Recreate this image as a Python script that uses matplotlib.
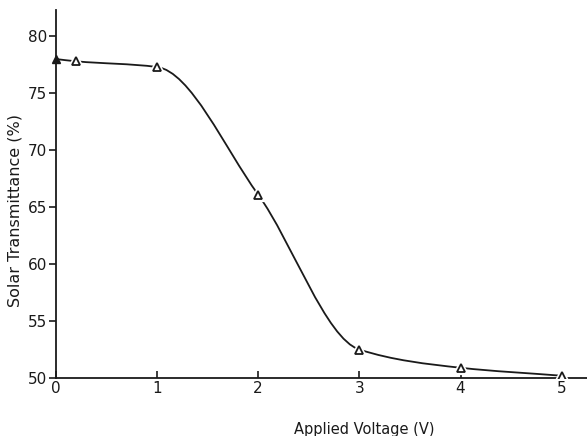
import numpy as np
import matplotlib.pyplot as plt
from matplotlib.path import Path
from matplotlib.patches import PathPatch

# --- data ---
voltage = [0.0, 0.2, 1.0, 2.0, 3.0, 4.0, 5.0]
transmittance = [78.0, 77.8, 77.3, 66.1, 52.5, 50.9, 50.2]
x_ticks = [0, 1, 2, 3, 4, 5]
y_ticks = [50, 55, 60, 65, 70, 75, 80]

ink = '#1a1a1a'

fig = plt.figure(figsize=(5.87, 4.36), dpi=100)
ax = fig.add_axes([0.095, 0.133, 0.905, 0.844])

# smooth curve through the points: monotone (Fritsch-Carlson) cubic Bezier segments
x = np.array(voltage)
y = np.array(transmittance)
h = np.diff(x)
d = np.diff(y) / h
m = np.zeros_like(y)
m[0], m[-1] = d[0], d[-1]
for k in range(1, len(x) - 1):
    if d[k - 1] * d[k] > 0:
        w1 = 2 * h[k] + h[k - 1]
        w2 = h[k] + 2 * h[k - 1]
        m[k] = (w1 + w2) / (w1 / d[k - 1] + w2 / d[k])
verts = [(x[0], y[0])]
codes = [Path.MOVETO]
for i in range(len(x) - 1):
    verts += [(x[i] + h[i] / 3, y[i] + m[i] * h[i] / 3),
              (x[i + 1] - h[i] / 3, y[i + 1] - m[i + 1] * h[i] / 3),
              (x[i + 1], y[i + 1])]
    codes += [Path.CURVE4] * 3
ax.add_patch(PathPatch(Path(verts, codes), facecolor='none', edgecolor=ink, lw=1.3, zorder=2))

# open triangles (with gap round them), first point filled
ax.plot(voltage[1:], transmittance[1:], linestyle='none', marker='^', markersize=7,
        markerfacecolor='white', markeredgecolor='white', markeredgewidth=3, zorder=3)
ax.plot(voltage[1:], transmittance[1:], linestyle='none', marker='^', markersize=6,
        markerfacecolor='white', markeredgecolor=ink, markeredgewidth=1.3, zorder=4)
ax.plot(voltage[:1], transmittance[:1], linestyle='none', marker='^', markersize=6,
        color=ink, zorder=4, clip_on=False)

ax.set_xlim(0, 5.25)
ax.set_ylim(50, 82.3)
ax.set_xticks(x_ticks)
ax.set_yticks(y_ticks)

for side in ['top', 'right']:
    ax.spines[side].set_visible(False)
for side in ['left', 'bottom']:
    ax.spines[side].set_color(ink)
    ax.spines[side].set_linewidth(1.3)

ax.tick_params(axis='x', direction='in', length=5, width=1.2, colors=ink, labelsize=11, pad=2)
ax.tick_params(axis='y', direction='out', length=5, width=1.2, colors=ink, labelsize=11, pad=1)

ax.set_xlabel('Applied Voltage (V)', fontsize=10.5, color=ink)
ax.xaxis.set_label_coords(0.58, -0.12)
ax.set_ylabel('Solar Transmittance (%)', fontsize=11.5, color=ink)
ax.yaxis.set_label_coords(-0.062, 0.455)

fig.savefig('out.png', dpi=100)
